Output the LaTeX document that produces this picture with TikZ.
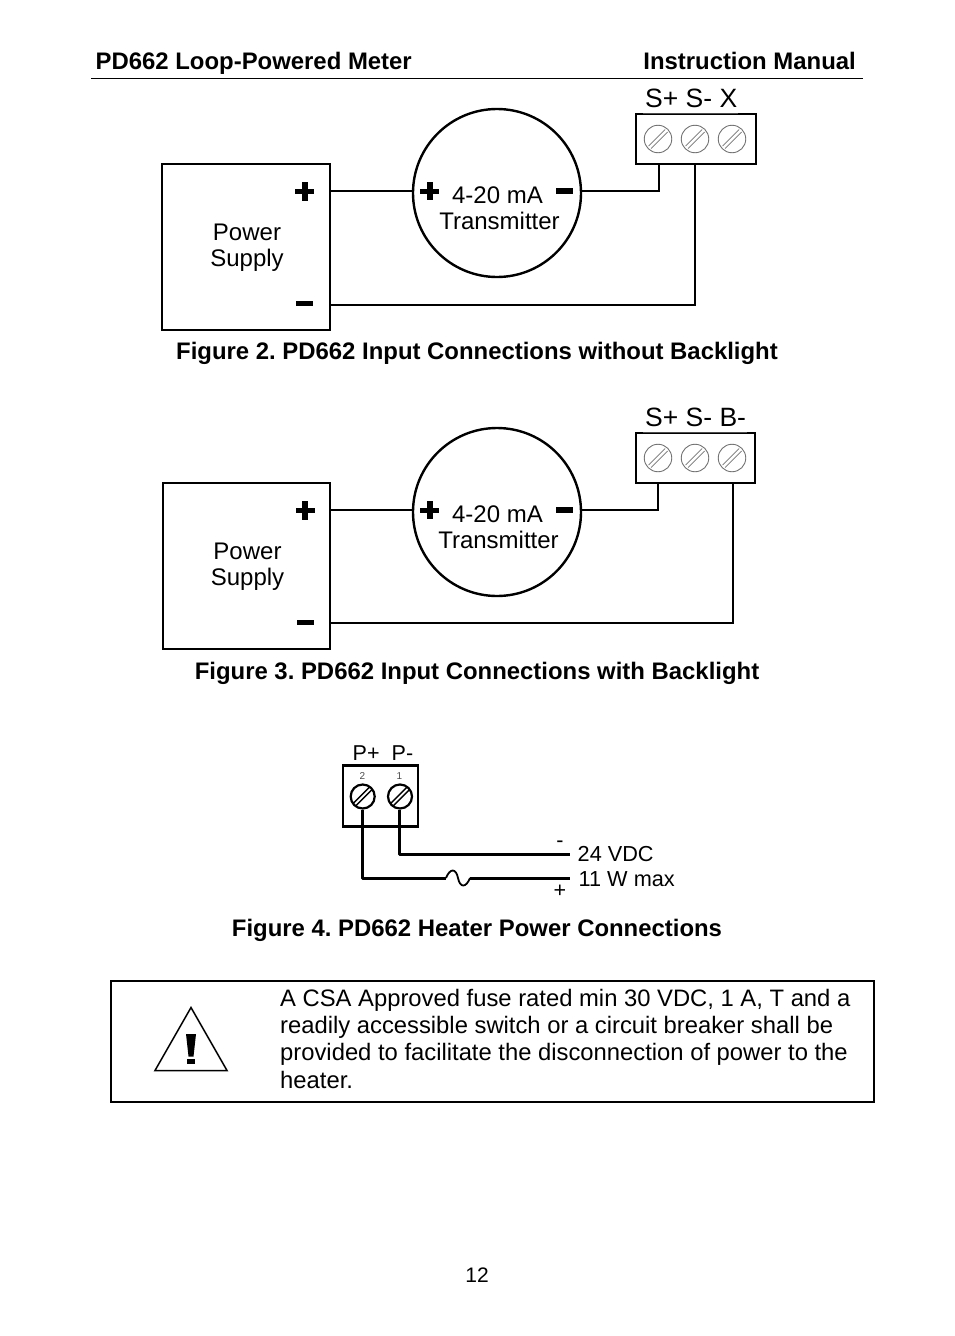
\documentclass[tikz,border=0pt]{standalone}
\usepackage{fontspec}
\setmainfont{Liberation Sans}
\newcommand{\fs}[1]{\fontsize{#1}{#1}\selectfont\frenchspacing}
\tikzset{x=1pt,y=-1pt,
 txt/.style={inner sep=0pt,anchor=base west,font=\fs{26.5}},
 figcap/.style={inner sep=0pt,anchor=base,font=\fs{23.9}\bfseries},
 lbl/.style={inner sep=0pt,anchor=base,font=\fs{24},align=center},
 body/.style={inner sep=0pt,anchor=base west,font=\fs{23.8}},
 boxx/.style={draw=black,line width=2.4pt,fill=white},
 wire/.style={draw=black,line width=2pt},
 wirebold/.style={draw=black,line width=3pt},
 screwlight/.style={draw=black!55,line width=.9pt,circle,minimum size=27.5pt,inner sep=0pt},
 screwdark/.style={draw=black,line width=2.2pt,circle,minimum size=24pt,inner sep=0pt},
 markbar/.style={inner sep=0pt,fill=black},
}
\newcommand{\slot}[3]{\draw[#3] (#1-9.5,#2+7)--(#1+7,#2-9.5) (#1-7,#2+9.5)--(#1+9.5,#2-7);}
\newcommand{\plusmark}[2]{\node[markbar,minimum width=19pt,minimum height=5pt] at (#1,#2) {};\node[markbar,minimum width=6pt,minimum height=18.5pt] at (#1,#2) {};}
\newcommand{\minusmark}[2]{\node[markbar,minimum width=17pt,minimum height=5.6pt] at (#1,#2) {};}
\begin{document}
\begin{tikzpicture}
\useasboundingbox (0,0) rectangle (954,1336);
\fill[white] (0,0) rectangle (954,1336);
% header
\node[inner sep=0pt,anchor=base west,font=\fs{23.9}\bfseries] (h1) at (95.5,69.5) {PD662 Loop-Powered Meter};
\node[inner sep=0pt,anchor=base east,font=\fs{23.9}\bfseries] (h2) at (856,69.5) {Instruction Manual};
\draw[line width=1.2pt] (91,78.5)--(863,78.5);
% Figure 2
\node[boxx,minimum width=167.5pt,minimum height=166pt,inner sep=0pt] (psa) at (246,247) {};
\node[lbl] at (247,240) (psal1) {Power};
\node[lbl] at (247,266) (psal2) {Supply};
\plusmark{304.7}{191.7}
\minusmark{304.5}{303.5}
\node[boxx,circle,minimum size=168pt,inner sep=0pt] (cira) at (497,193) {};
\plusmark{429.8}{191}
\minusmark{564}{191}
\node[lbl] at (497.5,203) (cal1) {4-20 mA};
\node[lbl] at (499.5,229) (cal2) {Transmitter};
\node[boxx,minimum width=120pt,minimum height=50pt,inner sep=0pt] (tba) at (696,139) {};
\fill[white] (643,112) rectangle (738,114.3);
\draw[line width=.8pt,black!70] (643,113.3)--(738,113.3);
\foreach \n/\x in {1/658,2/695,3/732}{\node[screwlight] (sa\n) at (\x,139) {};\slot{\x}{139}{line width=.7pt,black!55}}
\node[txt] at (645,107) (tal) {S+ S- X};
\coordinate (a1) at (659,191); \coordinate (a2) at (695,305);
\coordinate (pap) at (psa.east |- 0,191); \coordinate (pam) at (psa.east |- 0,305);
\draw[wire,line width=1.6pt] (pap)--(cira.west |- 0,191);
\draw[wire,line join=miter] (cira.east |- 0,191)--(a1)--(a1 |- tba.south);
\draw[wire,line join=miter] (pam)--(a2)--(a2 |- tba.south);
\node[figcap] at (477,359) (figa) {Figure 2. PD662 Input Connections without Backlight};
% Figure 3
\node[boxx,minimum width=167.5pt,minimum height=166pt,inner sep=0pt] (psb) at (246.5,566) {};
\node[lbl] at (247.5,559.5) (psbl1) {Power};
\node[lbl] at (247.5,585.5) (psbl2) {Supply};
\plusmark{305}{510.7}
\minusmark{305}{622.5}
\node[boxx,circle,minimum size=168pt,inner sep=0pt] (cirb) at (497,512) {};
\plusmark{429.8}{510}
\minusmark{564}{510}
\node[lbl] at (497.5,522) (cbl1) {4-20 mA};
\node[lbl] at (498.5,548) (cbl2) {Transmitter};
\node[boxx,minimum width=119pt,minimum height=50pt,inner sep=0pt] (tbb) at (695.5,458) {};
\fill[white] (643,431) rectangle (747,433.3);
\draw[line width=.8pt,black!70] (643,432.3)--(747,432.3);
\foreach \n/\x in {1/658,2/695,3/732}{\node[screwlight] (sb\n) at (\x,458) {};\slot{\x}{458}{line width=.7pt,black!55}}
\node[txt] at (645,426.5) (tbl) {S+ S- B-};
\coordinate (b1) at (658,510); \coordinate (b2) at (732.5,623);
\coordinate (pbp) at (psb.east |- 0,510); \coordinate (pbm) at (psb.east |- 0,623);
\draw[wire] (pbp)--(cirb.west |- 0,510);
\draw[wire,line join=miter] (cirb.east |- 0,510)--(b1)--(b1 |- tbb.south);
\draw[wire,line join=miter] (pbm)--(b2)--(b2 |- tbb.south);
\node[figcap] at (477,679) (figb) {Figure 3. PD662 Input Connections with Backlight};
% Figure 4
\node[boxx,line width=2.6pt,minimum width=75pt,minimum height=61pt,inner sep=0pt] (tbc) at (380.5,796) {};
\node[inner sep=0pt,anchor=base west,font=\fs{21.5}] at (352.5,760) (pl) {P+};
\node[inner sep=0pt,anchor=base west,font=\fs{21.5}] at (391.5,760) (ml) {P-};
\node[inner sep=0pt,anchor=base,font=\fs{10},text=black!70] at (362.5,779) (n2) {2};
\node[inner sep=0pt,anchor=base,font=\fs{10},text=black!70] at (399.5,779) (n1) {1};
\node[screwdark] (sc2) at (362.7,796.5) {};
\node[screwdark] (sc1) at (400,796.5) {};
\slot{362.7}{796.5}{line width=1.4pt}
\slot{400}{796.5}{line width=1.4pt}
\coordinate (c1) at (399.5,854.5); \coordinate (c1e) at (570,854.5);
\coordinate (c2) at (362.5,878); \coordinate (f1) at (446,878); \coordinate (f2) at (470,878); \coordinate (c2e) at (570,878);
\draw[wirebold,line join=round] (c1 |- sc1.south)--(c1)--(c1e);
\draw[wirebold,line join=round] (c2 |- sc2.south)--(c2)--(f1);
\draw[wirebold] (f2)--(c2e);
\draw[line width=1.8pt] (f1) .. controls (450,868) and (456,868) .. (458,878) .. controls (460,888) and (466,888) .. (f2);
\node[inner sep=0pt,anchor=base,font=\fs{21.5}] at (560,847.5) (mn) {-};
\node[inner sep=0pt,anchor=base,font=\fs{21.5}] at (560,897.5) (pn) {+};
\node[inner sep=0pt,anchor=base west,font=\fs{21.7}] at (577.5,861) (v24) {24 VDC};
\node[inner sep=0pt,anchor=base west,font=\fs{21.7}] at (578.5,886) (w11) {11 W max};
\node[figcap] at (477,936) (figc) {Figure 4. PD662 Heater Power Connections};
% warning
\draw[line width=1.8pt] (111,981) rectangle (874,1102);
\draw[line width=1.5pt,line join=miter] (191,1007.5)--(227,1070.5)--(155,1070.5)--cycle;
\fill (186,1034)--(196,1034)--(193.5,1056.5)--(188.5,1056.5)--cycle;
\fill (187,1059)rectangle(194.5,1064);
\node[body] at (280,1006) (t1) {A CSA Approved fuse rated min 30 VDC, 1 A, T and a};
\node[body] at (280,1033) (t2) {readily accessible switch or a circuit breaker shall be};
\node[body] at (280,1060) (t3) {provided to facilitate the disconnection of power to the};
\node[body] at (280,1088) (t4) {heater.};
\node[inner sep=0pt,anchor=base,font=\fs{21}] at (477,1282.5) (pg) {12};
\end{tikzpicture}
\end{document}
